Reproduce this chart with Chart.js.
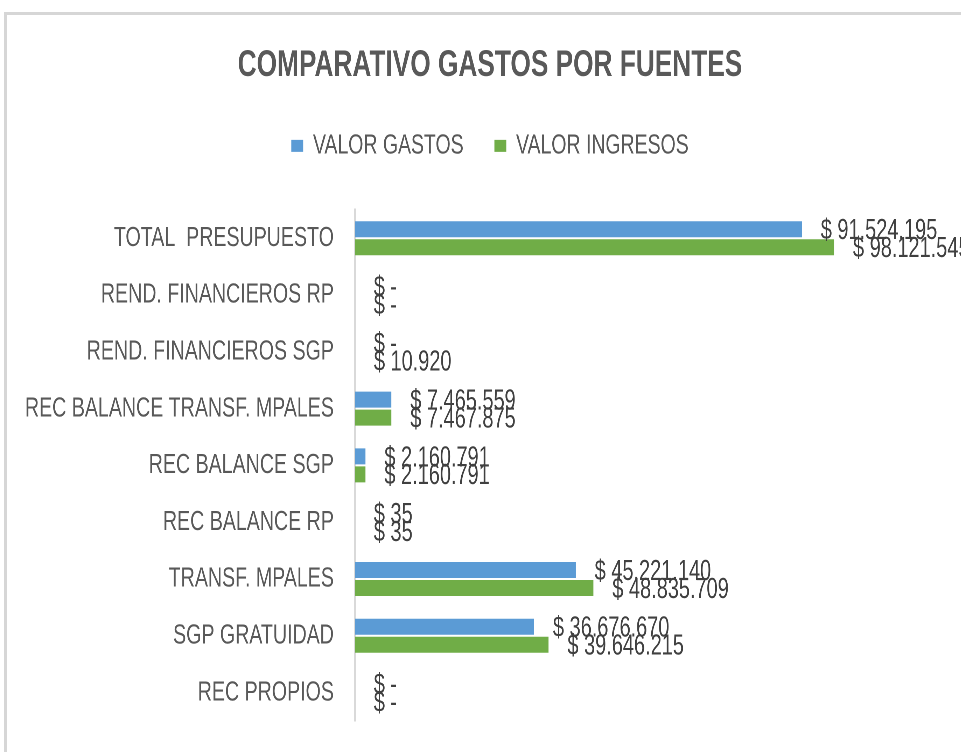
<!DOCTYPE html>
<html>
<head>
<meta charset="utf-8">
<script src="https://cdn.jsdelivr.net/npm/chart.js@4/dist/chart.umd.min.js"></script>
<style>
  html, body { margin: 0; padding: 0; background: #fff; overflow: hidden; width: 961px; height: 752px; }
  #frame { position: absolute; left: 4px; top: 12px; width: 1100px; height: 900px; border: 3px solid #d6d6d6; box-sizing: border-box; }
  /* Excel draws this chart with a narrow font, so squeeze the whole canvas horizontally */
  #chart { position: absolute; left: 0; top: 0; transform: scaleX(0.7); transform-origin: 0 0; }
</style>
</head>
<body>
<div id="frame"></div>
<canvas id="chart" width="1460" height="752"></canvas>
<script>
const FONT = '"Liberation Sans", Arial, sans-serif';

const categories = [
  'TOTAL  PRESUPUESTO',
  'REND. FINANCIEROS RP',
  'REND. FINANCIEROS SGP',
  'REC BALANCE TRANSF. MPALES',
  'REC BALANCE SGP',
  'REC BALANCE RP',
  'TRANSF. MPALES',
  'SGP GRATUIDAD',
  'REC PROPIOS'
];
const valorGastos = [91524195, 0, 0, 7465559, 2160791, 35, 45221140, 36676670, 0];
const valorIngresos = [98121545, 0, 10920, 7467875, 2160791, 35, 48835709, 39646215, 0];

// "$ 91.524.195" style, dash for zero
function money(v) {
  if (!v) return '$ -';
  return '$ ' + String(v).replace(/\B(?=(\d{3})+(?!\d))/g, '.');
}

const valueLabels = {
  id: 'valueLabels',
  afterDatasetsDraw(chart) {
    const ctx = chart.ctx;
    ctx.save();
    ctx.font = '28.5px ' + FONT;
    ctx.fillStyle = '#404040';
    ctx.textBaseline = 'middle';
    chart.data.datasets.forEach((ds, i) => {
      chart.getDatasetMeta(i).data.forEach((bar, j) => {
        ctx.fillText(money(ds.data[j]), bar.x + 27, bar.y + 2);
      });
    });
    ctx.restore();
  }
};

// extra room between the legend and the bars
const legendGap = {
  id: 'legendGap',
  beforeInit(chart) {
    const fit = chart.legend.fit;
    chart.legend.fit = function () {
      fit.call(this);
      this.height += 40;
    };
  }
};

new Chart(document.getElementById('chart'), {
  type: 'bar',
  data: {
    labels: categories,
    datasets: [{
      label: 'VALOR GASTOS',
      data: valorGastos,
      backgroundColor: '#5b9bd5',
      categoryPercentage: 0.633,
      barPercentage: 0.89
    }, {
      label: 'VALOR INGRESOS',
      data: valorIngresos,
      backgroundColor: '#70ad47',
      categoryPercentage: 0.633,
      barPercentage: 0.89
    }]
  },
  options: {
    indexAxis: 'y',
    responsive: false,
    animation: false,
    devicePixelRatio: 2,
    layout: { padding: { top: 20, right: 60, bottom: 31, left: 0 } },
    plugins: {
      title: {
        display: true,
        text: 'COMPARATIVO GASTOS POR FUENTES',
        color: '#595959',
        font: { family: FONT, size: 37.5, weight: 'bold' },
        padding: { top: 23, bottom: 0 }
      },
      legend: {
        position: 'top',
        labels: {
          color: '#595959',
          font: { family: FONT, size: 27.8 },
          boxWidth: 17,
          boxHeight: 12,
          padding: 44
        }
      },
      tooltip: { enabled: false }
    },
    scales: {
      x: { display: false, min: 0, max: 128000000 },
      y: {
        grid: { display: false },
        border: { display: true, color: '#d9d9d9', width: 2.5 },
        ticks: {
          color: '#595959',
          font: { family: FONT, size: 28 },
          padding: 22
        },
        afterFit(scale) {
          scale.width = 507;
          scale.paddingTop = 0;
          scale.paddingBottom = 0;
        }
      }
    }
  },
  plugins: [valueLabels, legendGap]
});
</script>
</body>
</html>
